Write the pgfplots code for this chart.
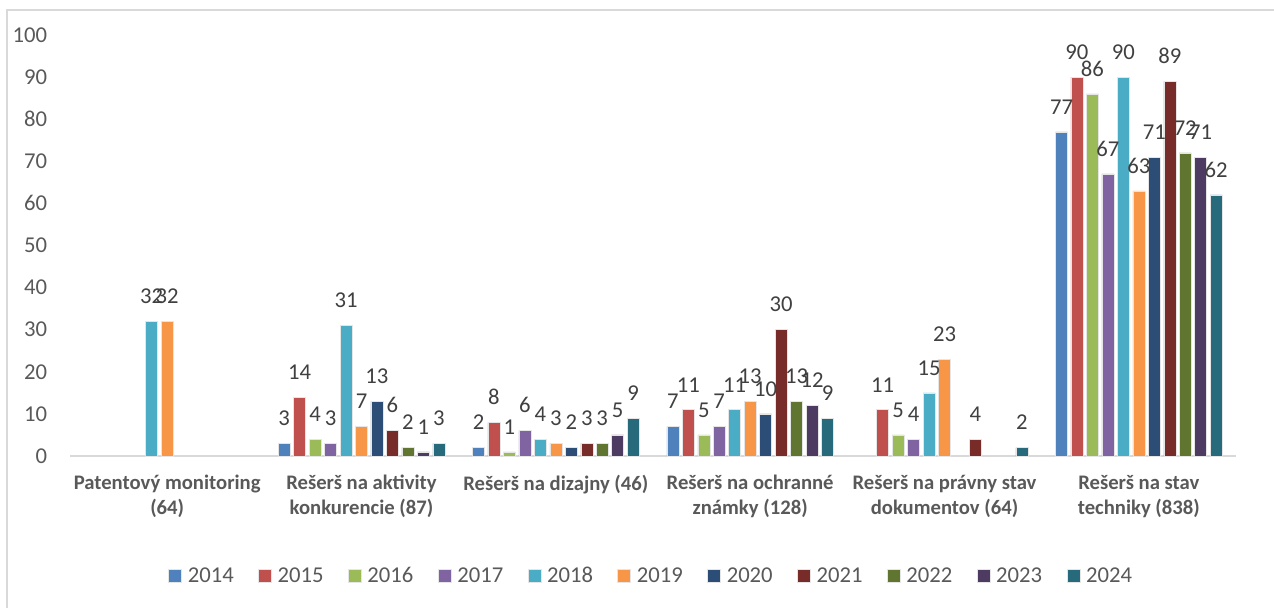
\documentclass[border=0pt]{standalone}
\usepackage{fontspec}
\setmainfont{Carlito}
\usepackage{pgfplots}
\pgfplotsset{compat=1.18}
\definecolor{c2014}{HTML}{4F81BD}
\definecolor{c2015}{HTML}{C0504D}
\definecolor{c2016}{HTML}{9BBB59}
\definecolor{c2017}{HTML}{8064A2}
\definecolor{c2018}{HTML}{4BACC6}
\definecolor{c2019}{HTML}{F79646}
\definecolor{c2020}{HTML}{2C4D75}
\definecolor{c2021}{HTML}{772C2A}
\definecolor{c2022}{HTML}{5F7530}
\definecolor{c2023}{HTML}{4D3B62}
\definecolor{c2024}{HTML}{276A7C}
\definecolor{tickgray}{HTML}{595959}
\definecolor{labgray}{HTML}{404040}
\definecolor{framegray}{HTML}{D9D9D9}
\begin{document}
\begin{tikzpicture}
\begin{axis}[
  name=ax,
  at={(0pt,0pt)}, anchor=south west,
  scale only axis, width=874.5pt, height=315.75pt,
  ybar=2.6pt, bar width=9pt,
  xmin=-0.5, xmax=5.5, ymin=0, ymax=100,
  clip=false,
  axis x line*=bottom, axis y line*=left,
  x axis line style={framegray, line width=1.5pt},
  y axis line style={draw=none},
  major tick length=0pt, tick style={draw=none},
  xtick={0,1,2,3,4,5},
  xticklabels={{Patentový monitoring\\(64)},{Rešerš na aktivity\\konkurencie (87)},{Rešerš na dizajny (46)},{Rešerš na ochranné\\známky (128)},{Rešerš na právny stav\\dokumentov (64)},{Rešerš na stav\\techniky (838)}},
  xticklabel style={align=center, anchor=north, inner sep=0pt, yshift=-14pt, text=tickgray, font=\fontsize{15.5}{18.75}\selectfont\bfseries},
  ytick={0,10,...,100},
  yticklabel style={anchor=east, inner sep=0pt, xshift=-17pt, text=tickgray, font=\fontsize{17}{20}\selectfont},
  /pgf/number format/assume math mode=true,
  nodes near coords,
  nodes near coords style={font=\fontsize{17}{20}\selectfont, text=labgray, anchor=south, inner sep=0pt, yshift=13pt},
  every axis plot/.append style={draw=white!80!gray, line width=0.4pt},
  legend columns=11,
  legend style={draw=none, fill=none, at={(0.4987,-0.285)}, anchor=center, font=\fontsize{17}{20}\selectfont, text=tickgray, /tikz/every odd column/.append style={column sep=2.5pt}, /tikz/every even column/.append style={column sep=16.25pt}},
  legend image code/.code={\fill[#1] (0pt,-4.875pt) rectangle (9.75pt,4.875pt);},
]
\addplot[fill=c2014] coordinates {(1,3)(2,2)(3,7)(5,77)};
\addplot[fill=c2015] coordinates {(1,14)(2,8)(3,11)(4,11)(5,90)};
\addplot[fill=c2016] coordinates {(1,4)(2,1)(3,5)(4,5)(5,86)};
\addplot[fill=c2017] coordinates {(1,3)(2,6)(3,7)(4,4)(5,67)};
\addplot[fill=c2018] coordinates {(0,32)(1,31)(2,4)(3,11)(4,15)(5,90)};
\addplot[fill=c2019] coordinates {(0,32)(1,7)(2,3)(3,13)(4,23)(5,63)};
\addplot[fill=c2020] coordinates {(1,13)(2,2)(3,10)(5,71)};
\addplot[fill=c2021] coordinates {(1,6)(2,3)(3,30)(4,4)(5,89)};
\addplot[fill=c2022] coordinates {(1,2)(2,3)(3,13)(5,72)};
\addplot[fill=c2023] coordinates {(1,1)(2,5)(3,12)(5,71)};
\addplot[fill=c2024] coordinates {(1,3)(2,9)(3,9)(4,2)(5,62)};
\legend{2014,2015,2016,2017,2018,2019,2020,2021,2022,2023,2024}
\end{axis}
\begin{scope}[shift={(ax.south west)}]
\draw[framegray, line width=1.5pt] (-47.25pt,-130pt) -- (-47.25pt,334.5pt) -- (915pt,334.5pt);
\end{scope}
\pgfresetboundingbox
\path[use as bounding box] ([shift={(-52.5pt,-113.25pt)}]ax.south west) rectangle ([shift={(903pt,342pt)}]ax.south west);
\end{tikzpicture}
\end{document}
